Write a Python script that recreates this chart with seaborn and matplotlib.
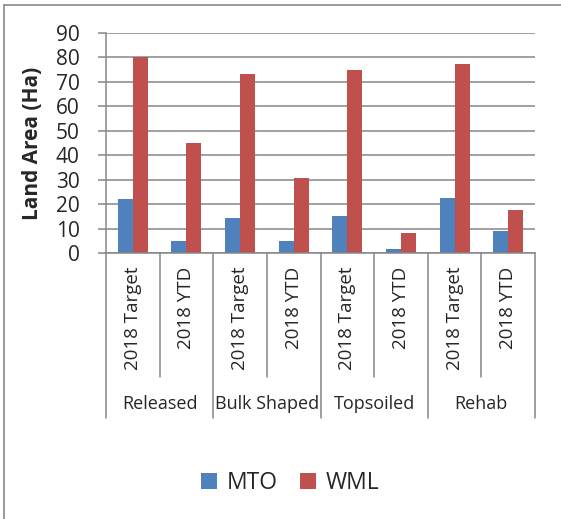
import numpy as np
import pandas as pd
import seaborn as sns
import matplotlib.pyplot as plt
from matplotlib.lines import Line2D

# values
groups = ['Released', 'Bulk Shaped', 'Topsoiled', 'Rehab']
periods = ['2018 Target', '2018 YTD']
mto = [22, 5, 14.5, 5, 15.3, 1.6, 22.5, 8.8]
wml = [80.2, 45, 73.2, 30.6, 75, 8.2, 77.3, 17.5]
series = ['MTO', 'WML']
colors = ['#4F81BD', '#C0504D']

slots = [f'{g}|{p}' for g in groups for p in periods]
df = pd.DataFrame({
    'slot': slots * 2,
    'series': ['MTO'] * len(slots) + ['WML'] * len(slots),
    'value': mto + wml,
})

sns.set_style('white')
plt.rcParams['font.family'] = ['Open Sans', 'DejaVu Sans']

fig = plt.figure(figsize=(5.61, 5.19), dpi=100)
ax = fig.add_axes([106 / 561, 1 - 253 / 519, 429 / 561, 220 / 519])

grid_c = '#868686'
sns.barplot(data=df, x='slot', y='value', hue='series', order=slots,
            hue_order=series, palette=colors, width=0.56, saturation=1,
            edgecolor='none', ax=ax, legend=True)

ax.set_ylim(0, 90)
ax.set_yticks(np.arange(0, 91, 10))
ax.set_xlim(-0.5, len(slots) - 0.5)
ax.yaxis.grid(True, color=grid_c, lw=1.1)
ax.set_axisbelow(True)
for s in ['top', 'right']:
    ax.spines[s].set_visible(False)
for s in ['left', 'bottom']:
    ax.spines[s].set_color(grid_c)
    ax.spines[s].set_linewidth(1.1)

ax.tick_params(axis='y', length=6, width=1.1, color=grid_c, pad=13,
               labelsize=15, left=True)
ax.tick_params(axis='x', length=0, pad=10, labelsize=13.5)
ax.set_xticks(range(len(slots)))
ax.set_xticklabels([p for g in groups for p in periods], rotation=90)
ax.set_xlabel('')
ax.set_ylabel('Land Area (Ha)', fontsize=15, fontweight='bold')
ax.yaxis.set_label_coords(-0.147, 0.5)

# category separators below the axis
tr = ax.get_xaxis_transform()
for i in range(len(slots) + 1):
    bottom = -0.75 if i % 2 == 0 else -0.5636
    ax.plot([i - 0.5, i - 0.5], [0, bottom], color=grid_c, lw=1.1,
            transform=tr, clip_on=False)
for k, g in enumerate(groups):
    ax.text(2 * k + 0.5, -0.686, g, transform=tr, ha='center', va='center',
            fontsize=13)

# legend below
handles, labels = ax.get_legend_handles_labels()
ax.get_legend().remove()
fig.legend(handles, labels, loc='center', bbox_to_anchor=(0.517, 1 - 483 / 519),
           ncol=2, frameon=False, fontsize=16.5, handlelength=0.7,
           handleheight=0.7, handletextpad=0.4, columnspacing=1.0)

# chart border (left and top visible in the reference)
fig.add_artist(Line2D([4 / 561, 4 / 561], [0, 1 - 4.5 / 519],
                      transform=fig.transFigure, color='#8a8a8a', lw=1.2))
fig.add_artist(Line2D([4 / 561, 1], [1 - 4.5 / 519, 1 - 4.5 / 519],
                      transform=fig.transFigure, color='#8a8a8a', lw=1.2))

fig.savefig('out.png', dpi=100)
